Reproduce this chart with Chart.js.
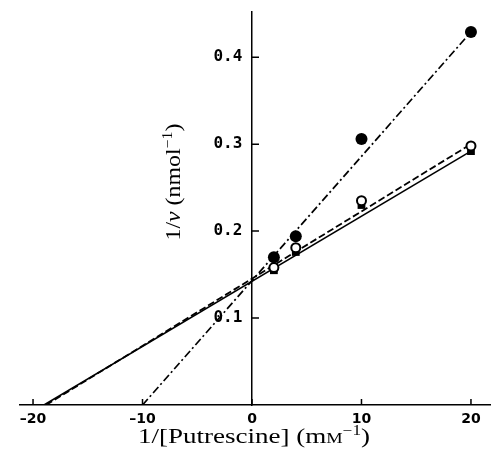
<!DOCTYPE html>
<html>
<head>
<meta charset="utf-8">
<script src="https://cdn.jsdelivr.net/npm/chart.js@4.4.1/dist/chart.umd.min.js"></script>
<style>
  html, body { margin: 0; background: #fff; }
  #wrap { width: 491px; height: 462px; }
</style>
</head>
<body>
<div id="wrap"><canvas id="chart"></canvas></div>
<script>
// 1/[Putrescine] (mM^-1)
const concInv = [2, 4, 10, 20];
// 1/v (nmol^-1) for the three series
const filledCircles = [0.170, 0.194, 0.306, 0.429];
const openCircles = [0.158, 0.181, 0.235, 0.298];
const filledSquares = [0.155, 0.176, 0.230, 0.292];

// fitted lines, end points
const dashDotX = [-10, 20];
const dashDotY = [0, 0.429];
const dashedX = [-18.8, 20];
const dashedY = [0, 0.300];
const solidX = [-19.0, 20];
const solidY = [0, 0.292];

const xTicks = [-20, -10, 0, 10, 20];
const yTicks = [0.1, 0.2, 0.3, 0.4];

const pts = (xs, ys) => xs.map((x, i) => ({ x: x, y: ys[i] }));

const serif = '"Liberation Serif", "Times New Roman", serif';

// draw text made of runs with different fonts / offsets, centred on cx,
// stretched horizontally to the given width
function drawRuns(ctx, runs, cx, cy, width) {
    let total = 0;
    runs.forEach(r => { ctx.font = r.font; total += ctx.measureText(r.text).width; });
    const k = width / total;
    ctx.save();
    ctx.translate(cx - width / 2, cy);
    ctx.scale(k, 1);
    let x = 0;
    runs.forEach(r => {
        ctx.font = r.font;
        ctx.fillText(r.text, x, -(r.rise || 0));
        x += ctx.measureText(r.text).width;
    });
    ctx.restore();
}

const axisExtras = {
    id: "axisExtras",
    afterDraw(chart) {
        const { ctx, scales: { x, y } } = chart;
        const x0 = x.getPixelForValue(0);
        const yb = y.getPixelForValue(0);
        ctx.save();
        ctx.strokeStyle = "#000";
        ctx.lineWidth = 1.5;
        ctx.beginPath();
        xTicks.forEach(v => {
            const px = x.getPixelForValue(v);
            ctx.moveTo(px, yb);
            ctx.lineTo(px, yb - 6);
        });
        yTicks.forEach(v => {
            const py = y.getPixelForValue(v);
            ctx.moveTo(x0, py);
            ctx.lineTo(x0 + 7, py);
        });
        ctx.stroke();

        ctx.fillStyle = "#000";
        ctx.textBaseline = "alphabetic";
        ctx.textAlign = "left";
        // x title
        drawRuns(ctx, [
            { text: "1/[Putrescine] (m", font: "22px " + serif },
            { text: "M", font: "15px " + serif },
            { text: "\u22121", font: "14px " + serif, rise: 8 },
            { text: ")", font: "22px " + serif },
        ], 254, 443, 232);
        // y title
        ctx.translate(180, 182);
        ctx.rotate(-Math.PI / 2);
        drawRuns(ctx, [
            { text: "1/", font: "21px " + serif },
            { text: "v", font: "italic 21px " + serif },
            { text: " (nmol", font: "21px " + serif },
            { text: "\u22121", font: "14px " + serif, rise: 8 },
            { text: ")", font: "21px " + serif },
        ], 0, 0, 117);
        ctx.restore();
    },
};

const noPad = s => {
    s.paddingLeft = 0;
    s.paddingRight = 0;
    s.paddingTop = 0;
    s.paddingBottom = 0;
};

const ctx = document.getElementById("chart").getContext("2d");
const chart = new Chart(ctx, {
    type: "scatter",
    data: {
        datasets: [
            {
                label: "open circles",
                data: pts(concInv, openCircles),
                pointStyle: "circle",
                pointRadius: 4.5,
                pointBackgroundColor: "#fff",
                pointBorderColor: "#000",
                pointBorderWidth: 2,
            },
            {
                label: "filled squares",
                data: pts(concInv, filledSquares),
                pointStyle: "rect",
                pointRadius: 5.5,
                pointBackgroundColor: "#000",
                pointBorderColor: "#000",
                pointBorderWidth: 0,
            },
            {
                label: "filled circles",
                data: pts(concInv, filledCircles),
                pointStyle: "circle",
                pointRadius: 6,
                pointBackgroundColor: "#000",
                pointBorderColor: "#000",
                pointBorderWidth: 0,
            },
            {
                type: "line",
                data: pts(dashDotX, dashDotY),
                showLine: true,
                borderColor: "#000",
                borderWidth: 1.7,
                borderDash: [8, 3, 2, 3],
                pointRadius: 0,
            },
            {
                type: "line",
                data: pts(dashedX, dashedY),
                showLine: true,
                borderColor: "#000",
                borderWidth: 1.8,
                borderDash: [7, 3],
                pointRadius: 0,
            },
            {
                type: "line",
                data: pts(solidX, solidY),
                showLine: true,
                borderColor: "#000",
                borderWidth: 1.6,
                pointRadius: 0,
            },
        ],
    },
    options: {
        responsive: true,
        maintainAspectRatio: false,
        animation: false,
        layout: { autoPadding: false, padding: { left: 20, right: 0, top: 12, bottom: 0 } },
        plugins: {
            legend: { display: false },
            tooltip: { enabled: false },
        },
        scales: {
            x: {
                type: "linear",
                position: "bottom",
                min: -21.19,
                max: 21.83,
                afterBuildTicks: s => { s.ticks = xTicks.map(v => ({ value: v })); },
                afterFit: s => { s.height = 57; noPad(s); },
                grid: { display: false, drawTicks: false },
                border: { display: true, color: "#000", width: 1.5 },
                ticks: {
                    padding: 6,
                    color: "#000",
                    font: { family: '"DejaVu Sans"', size: 14, weight: "bold" },
                    callback: v => (v < 0 ? "\u2013" + Math.abs(v) : String(v)),
                },
            },
            y: {
                type: "linear",
                position: { x: 0 },
                min: 0,
                max: 0.452,
                afterBuildTicks: s => { s.ticks = yTicks.map(v => ({ value: v })); },
                afterFit: noPad,
                grid: { display: false, drawTicks: false },
                border: { display: true, color: "#000", width: 1.5 },
                ticks: {
                    color: "#000",
                    font: { family: '"DejaVu Sans Mono"', size: 16, weight: "bold" },
                    // trailing space keeps the label clear of the centred axis
                    callback: v => v.toFixed(1) + " ",
                },
            },
        },
    },
    plugins: [axisExtras],
});
</script>
</body>
</html>
